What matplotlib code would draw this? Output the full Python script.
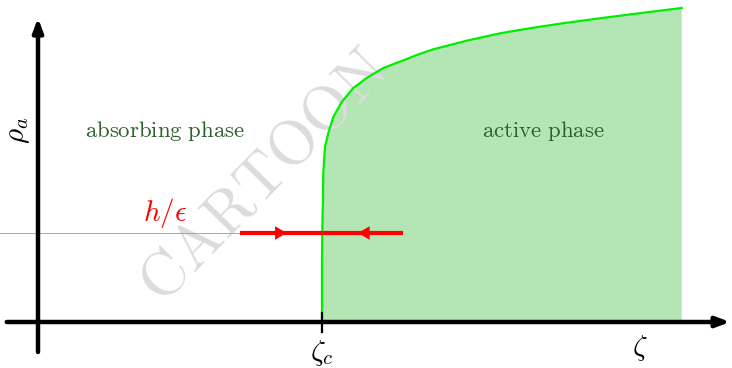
import matplotlib.pyplot as plt
import numpy as np

plt.rcParams['mathtext.fontset'] = 'cm'

# phase boundary rho_a(zeta), zeta in units of zeta_c, rho in units of h/eps
zeta = [1.0, 1.0, 1.0011, 1.0021, 1.0035, 1.0046, 1.0106, 1.0222, 1.0398,
        1.0694, 1.1102, 1.1574, 1.2158, 1.2852, 1.3335, 1.3919, 1.5095,
        1.6268, 1.7440, 1.8616, 1.9789, 2.0961, 2.2665]
rho = [0.0, 0.6966, 1.0, 1.2022, 1.3708, 1.6742, 1.9663, 2.1236, 2.3034,
       2.4719, 2.6292, 2.7416, 2.8539, 2.9382, 3.0, 3.0640, 3.1607,
       3.2438, 3.3067, 3.3629, 3.4124, 3.4607, 3.5281]

zeta_c = 1.0
h_eps = 1.0
flow_left, flow_right = 0.711, 1.285
arrow_tips = [0.8757, 1.1268]

fig = plt.figure(figsize=(7.32, 3.68), dpi=100)
ax = fig.add_axes([0, 0, 1, 1])
ax.set_xlim(-0.1338, 2.4437)
ax.set_ylim(-0.5169, 3.618)
ax.axis('off')

# active region
ax.fill(zeta + [zeta[-1], zeta[0]], rho + [0, 0], color='#b4e5b4', lw=0, zorder=1)
ax.plot(zeta, rho, color='#00ee00', lw=1.6, zorder=3)

# watermark
ax.text(0.799, 1.618, r'$\mathrm{CARTOON}$', fontsize=45, color='#dcdcdc',
        rotation=45.6, ha='center', va='center', zorder=2)

# h/eps level and flow
ax.plot([-0.134, flow_left], [h_eps, h_eps], color='#ee8888', lw=0.7, zorder=3)
ax.plot([flow_left, flow_right], [h_eps, h_eps], color='red', lw=3, zorder=4,
        solid_capstyle='butt')
for tip, start in zip(arrow_tips, [flow_left, flow_right]):
    ax.annotate('', xy=(tip, h_eps), xytext=(start, h_eps),
                arrowprops=dict(arrowstyle='-|>,head_length=0.6,head_width=0.35',
                                mutation_scale=14, color='red', lw=0,
                                shrinkA=0, shrinkB=0),
                zorder=5)

# axes arrows
ax.annotate('', xy=(0, 3.416), xytext=(0, -0.337),
            arrowprops=dict(arrowstyle='-|>,head_length=0.8,head_width=0.3',
                            color='black', lw=3.2, shrinkA=0, shrinkB=0), zorder=6)
ax.annotate('', xy=(2.437, 0), xytext=(-0.11, 0),
            arrowprops=dict(arrowstyle='-|>,head_length=0.8,head_width=0.3',
                            color='black', lw=3.2, shrinkA=0, shrinkB=0), zorder=6)
ax.plot([zeta_c, zeta_c], [0.101, -0.112], color='black', lw=1.6, zorder=6)

# labels
green_txt = '#2f5f2f'
ax.text(0.447, 2.146, r'$\mathrm{absorbing\ phase}$', fontsize=16.4, color=green_txt,
        ha='center', va='center')
ax.text(1.778, 2.146, r'$\mathrm{active\ phase}$', fontsize=16.4, color=green_txt,
        ha='center', va='center')
ax.text(0.447, 1.225, r'$h/\epsilon$', fontsize=21, color='red',
        ha='center', va='center')
ax.text(-0.0704, 2.157, r'$\rho_a$', fontsize=21, rotation=90,
        ha='center', va='center')
ax.text(zeta_c, -0.345, r'$\zeta_c$', fontsize=21, ha='center', va='center')
ax.text(2.12, -0.292, r'$\zeta$', fontsize=21, ha='center', va='center')

fig.savefig('out.png', dpi=100)
